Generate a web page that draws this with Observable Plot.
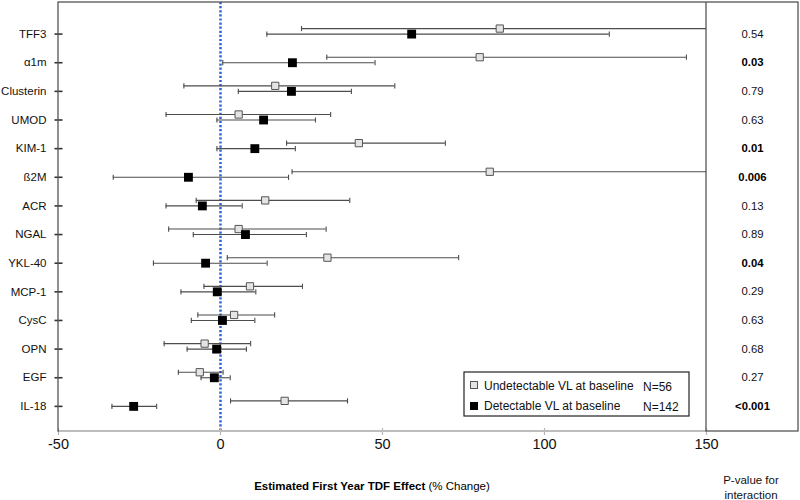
<!DOCTYPE html>
<html><head><meta charset="utf-8">
<script src="https://cdn.jsdelivr.net/npm/d3@7"></script>
<script src="https://cdn.jsdelivr.net/npm/@observablehq/plot@0.6"></script>
<style>body{margin:0;background:#fff} svg{display:block}</style>
</head><body><div id="chart"></div>
<script>
// ---- data ----
const biomarkers = ["TFF3","α1m","Clusterin","UMOD","KIM-1","ß2M","ACR","NGAL","YKL-40","MCP-1","CysC","OPN","EGF","IL-18"];
// Undetectable VL at baseline (N=56)
const undetEst = [86.2, 80.0, 16.9, 5.6, 42.7, 83.1, 13.8, 5.6, 33.0, 9.1, 4.2, -4.9, -6.4, 19.8];
const undetLo  = [25.0, 32.8, -11.3, -16.8, 20.4, 22.1, -7.5, -16.0, 2.1, -5.1, -7.0, -17.4, -13.0, 3.1];
const undetHi  = [165, 143.8, 53.8, 34.0, 69.4, 160, 39.9, 32.6, 73.5, 25.3, 16.7, 9.3, 0.8, 39.2];
// Detectable VL at baseline (N=142)
const detEst = [59.0, 22.2, 21.9, 13.3, 10.6, -9.9, -5.6, 7.7, -4.6, -1.0, 0.6, -1.2, -1.9, -26.8];
const detLo  = [14.3, 0.7, 5.5, -1.1, -1.1, -33.1, -16.8, -8.4, -20.7, -12.2, -9.0, -10.3, -6.0, -33.5];
const detHi  = [120.0, 47.7, 40.4, 29.3, 23.1, 21.0, 6.7, 26.5, 14.4, 10.9, 10.6, 8.0, 3.0, -19.7];
// P-value for interaction
const pValues = ["0.54","0.03","0.79","0.63","0.01","0.006","0.13","0.89","0.04","0.29","0.63","0.68","0.27","<0.001"];
const xTicks = [-50, 0, 50, 100, 150];
const legendLabels = ["Undetectable VL at baseline", "Detectable VL at baseline"];
const legendN = ["N=56", "N=142"];

// ---- table ----
const rows = biomarkers.map((name, i) => ({
  name, ue: undetEst[i], ul: undetLo[i], uh: undetHi[i],
  de: detEst[i], dl: detLo[i], dh: detHi[i], p: pValues[i],
  bold: parseFloat(pValues[i].replace("<", "")) < 0.05
}));

const W = 800, H = 500, mL = 58, mR = 94, mT = 2, mB = 69;
const font = "'Liberation Sans', Arial, Helvetica, sans-serif";
const barColor = "#4d4d4d";
const off = -5.5;
const hline = {draw(ctx){ ctx.moveTo(-4, 0); ctx.lineTo(4, 0); }};
const vcap  = {draw(ctx){ ctx.moveTo(0, -2.6); ctx.lineTo(0, 2.6); }};
const vtick = {draw(ctx){ ctx.moveTo(0, -3.5); ctx.lineTo(0, 3.5); }};

const plot = Plot.plot({
  width: W, height: H,
  marginLeft: mL, marginRight: mR, marginTop: mT, marginBottom: mB,
  style: {fontFamily: font, background: "white", overflow: "visible", color: "#111"},
  x: {domain: [-50, 150], axis: null},
  y: {type: "point", domain: biomarkers, padding: 0.99, align: 0.557, round: false, axis: null},
  marks: [
    Plot.ruleX([0], {stroke: "#2f64d8", strokeWidth: 2.5, strokeDasharray: "2.2 1.9"}),
    // error bars
    Plot.ruleY(rows, {y: "name", x1: "ul", x2: "uh", dy: off, stroke: barColor, strokeWidth: 1.1, clip: true}),
    Plot.ruleY(rows, {y: "name", x1: "dl", x2: "dh", stroke: barColor, strokeWidth: 1.1, clip: true}),
    Plot.dot(rows, {x: "ul", y: "name", dy: off, symbol: vcap, fill: "none", stroke: barColor, strokeWidth: 1.1, clip: true}),
    Plot.dot(rows, {x: "uh", y: "name", dy: off, symbol: vcap, fill: "none", stroke: barColor, strokeWidth: 1.1, clip: true}),
    Plot.dot(rows, {x: "dl", y: "name", symbol: vcap, fill: "none", stroke: barColor, strokeWidth: 1.1, clip: true}),
    Plot.dot(rows, {x: "dh", y: "name", symbol: vcap, fill: "none", stroke: barColor, strokeWidth: 1.1, clip: true}),
    // estimates
    Plot.dot(rows, {x: "ue", y: "name", dy: off, symbol: "square", r: 4.1, fill: "#e4e4e4", stroke: "#555", strokeWidth: 1}),
    Plot.dot(rows, {x: "de", y: "name", symbol: "square", r: 5.0, fill: "#000", stroke: "none"}),
    // y axis ticks and labels
    Plot.dot(rows, {y: "name", frameAnchor: "left", symbol: hline, fill: "none", stroke: "#333", strokeWidth: 1.6}),
    Plot.text(rows, {y: "name", text: "name", frameAnchor: "left", dx: -12, textAnchor: "end", fontSize: 11.5, fill: "#111"}),
    // x axis ticks and labels
    Plot.dot(xTicks, {x: d => d, frameAnchor: "bottom", symbol: vtick, fill: "none", stroke: "#b5b5b5", strokeWidth: 1.2}),
    Plot.text(xTicks, {x: d => d, text: d => String(d), frameAnchor: "bottom", dy: 17, fontSize: 14.5, fill: "#111"}),
    // p-values
    Plot.text(rows.filter(d => !d.bold), {y: "name", text: "p", frameAnchor: "right", dx: 46, textAnchor: "middle", fontSize: 11.3, fill: "#111"}),
    Plot.text(rows.filter(d => d.bold), {y: "name", text: "p", frameAnchor: "right", dx: 46, textAnchor: "middle", fontSize: 11.3, fontWeight: "bold", fill: "#000"})
  ]
});

document.getElementById("chart").appendChild(plot);

// ---- frame, p-value box, titles and legend ----
const svg = d3.select(plot);
const xs = plot.scale("x");
const x = d3.scaleLinear(xs.domain, xs.range);
const right = x(150), bottom = H - mB;
const g = svg.append("g").attr("fill", "none");
g.append("rect").attr("x", mL).attr("y", mT).attr("width", W - 2 - mL).attr("height", bottom - mT)
  .attr("stroke", "#555").attr("stroke-width", 1.3);
g.append("line").attr("x1", right).attr("x2", right).attr("y1", mT).attr("y2", bottom)
  .attr("stroke", "#555").attr("stroke-width", 1.3);
g.append("line").attr("x1", mL + 1).attr("x2", right - 1).attr("y1", bottom).attr("y2", bottom)
  .attr("stroke", "#bdbdbd").attr("stroke-width", 2);

const t = svg.append("text").attr("x", 372).attr("y", 490).attr("text-anchor", "middle")
  .attr("font-size", 11.5).attr("font-family", font).attr("fill", "#000");
t.append("tspan").attr("font-weight", "bold").text("Estimated First Year TDF Effect");
t.append("tspan").text(" (% Change)");

const ph = svg.append("text").attr("text-anchor", "middle").attr("font-size", 11.5)
  .attr("font-family", font).attr("fill", "#111");
ph.append("tspan").attr("x", 751).attr("y", 484).text("P-value for");
ph.append("tspan").attr("x", 751).attr("y", 499).text("interaction");

const lg = svg.append("g").attr("font-family", font).attr("font-size", 12).attr("fill", "#111")
  .attr("text-anchor", "start");
lg.append("rect").attr("x", 464).attr("y", 372).attr("width", 225).attr("height", 44)
  .attr("fill", "white").attr("stroke", "#222").attr("stroke-width", 1.2);
lg.append("rect").attr("x", 470.5).attr("y", 381.5).attr("width", 7).attr("height", 7)
  .attr("fill", "#e4e4e4").attr("stroke", "#555");
lg.append("rect").attr("x", 470).attr("y", 402).attr("width", 8).attr("height", 8).attr("fill", "#000");
legendLabels.forEach((s, i) => {
  lg.append("text").attr("x", 484).attr("y", 389.5 + i * 20.7).attr("text-anchor", "start").text(s);
  lg.append("text").attr("x", 643).attr("y", 390.5 + i * 20.7).attr("text-anchor", "start").text(legendN[i]);
});
</script>
</body></html>
